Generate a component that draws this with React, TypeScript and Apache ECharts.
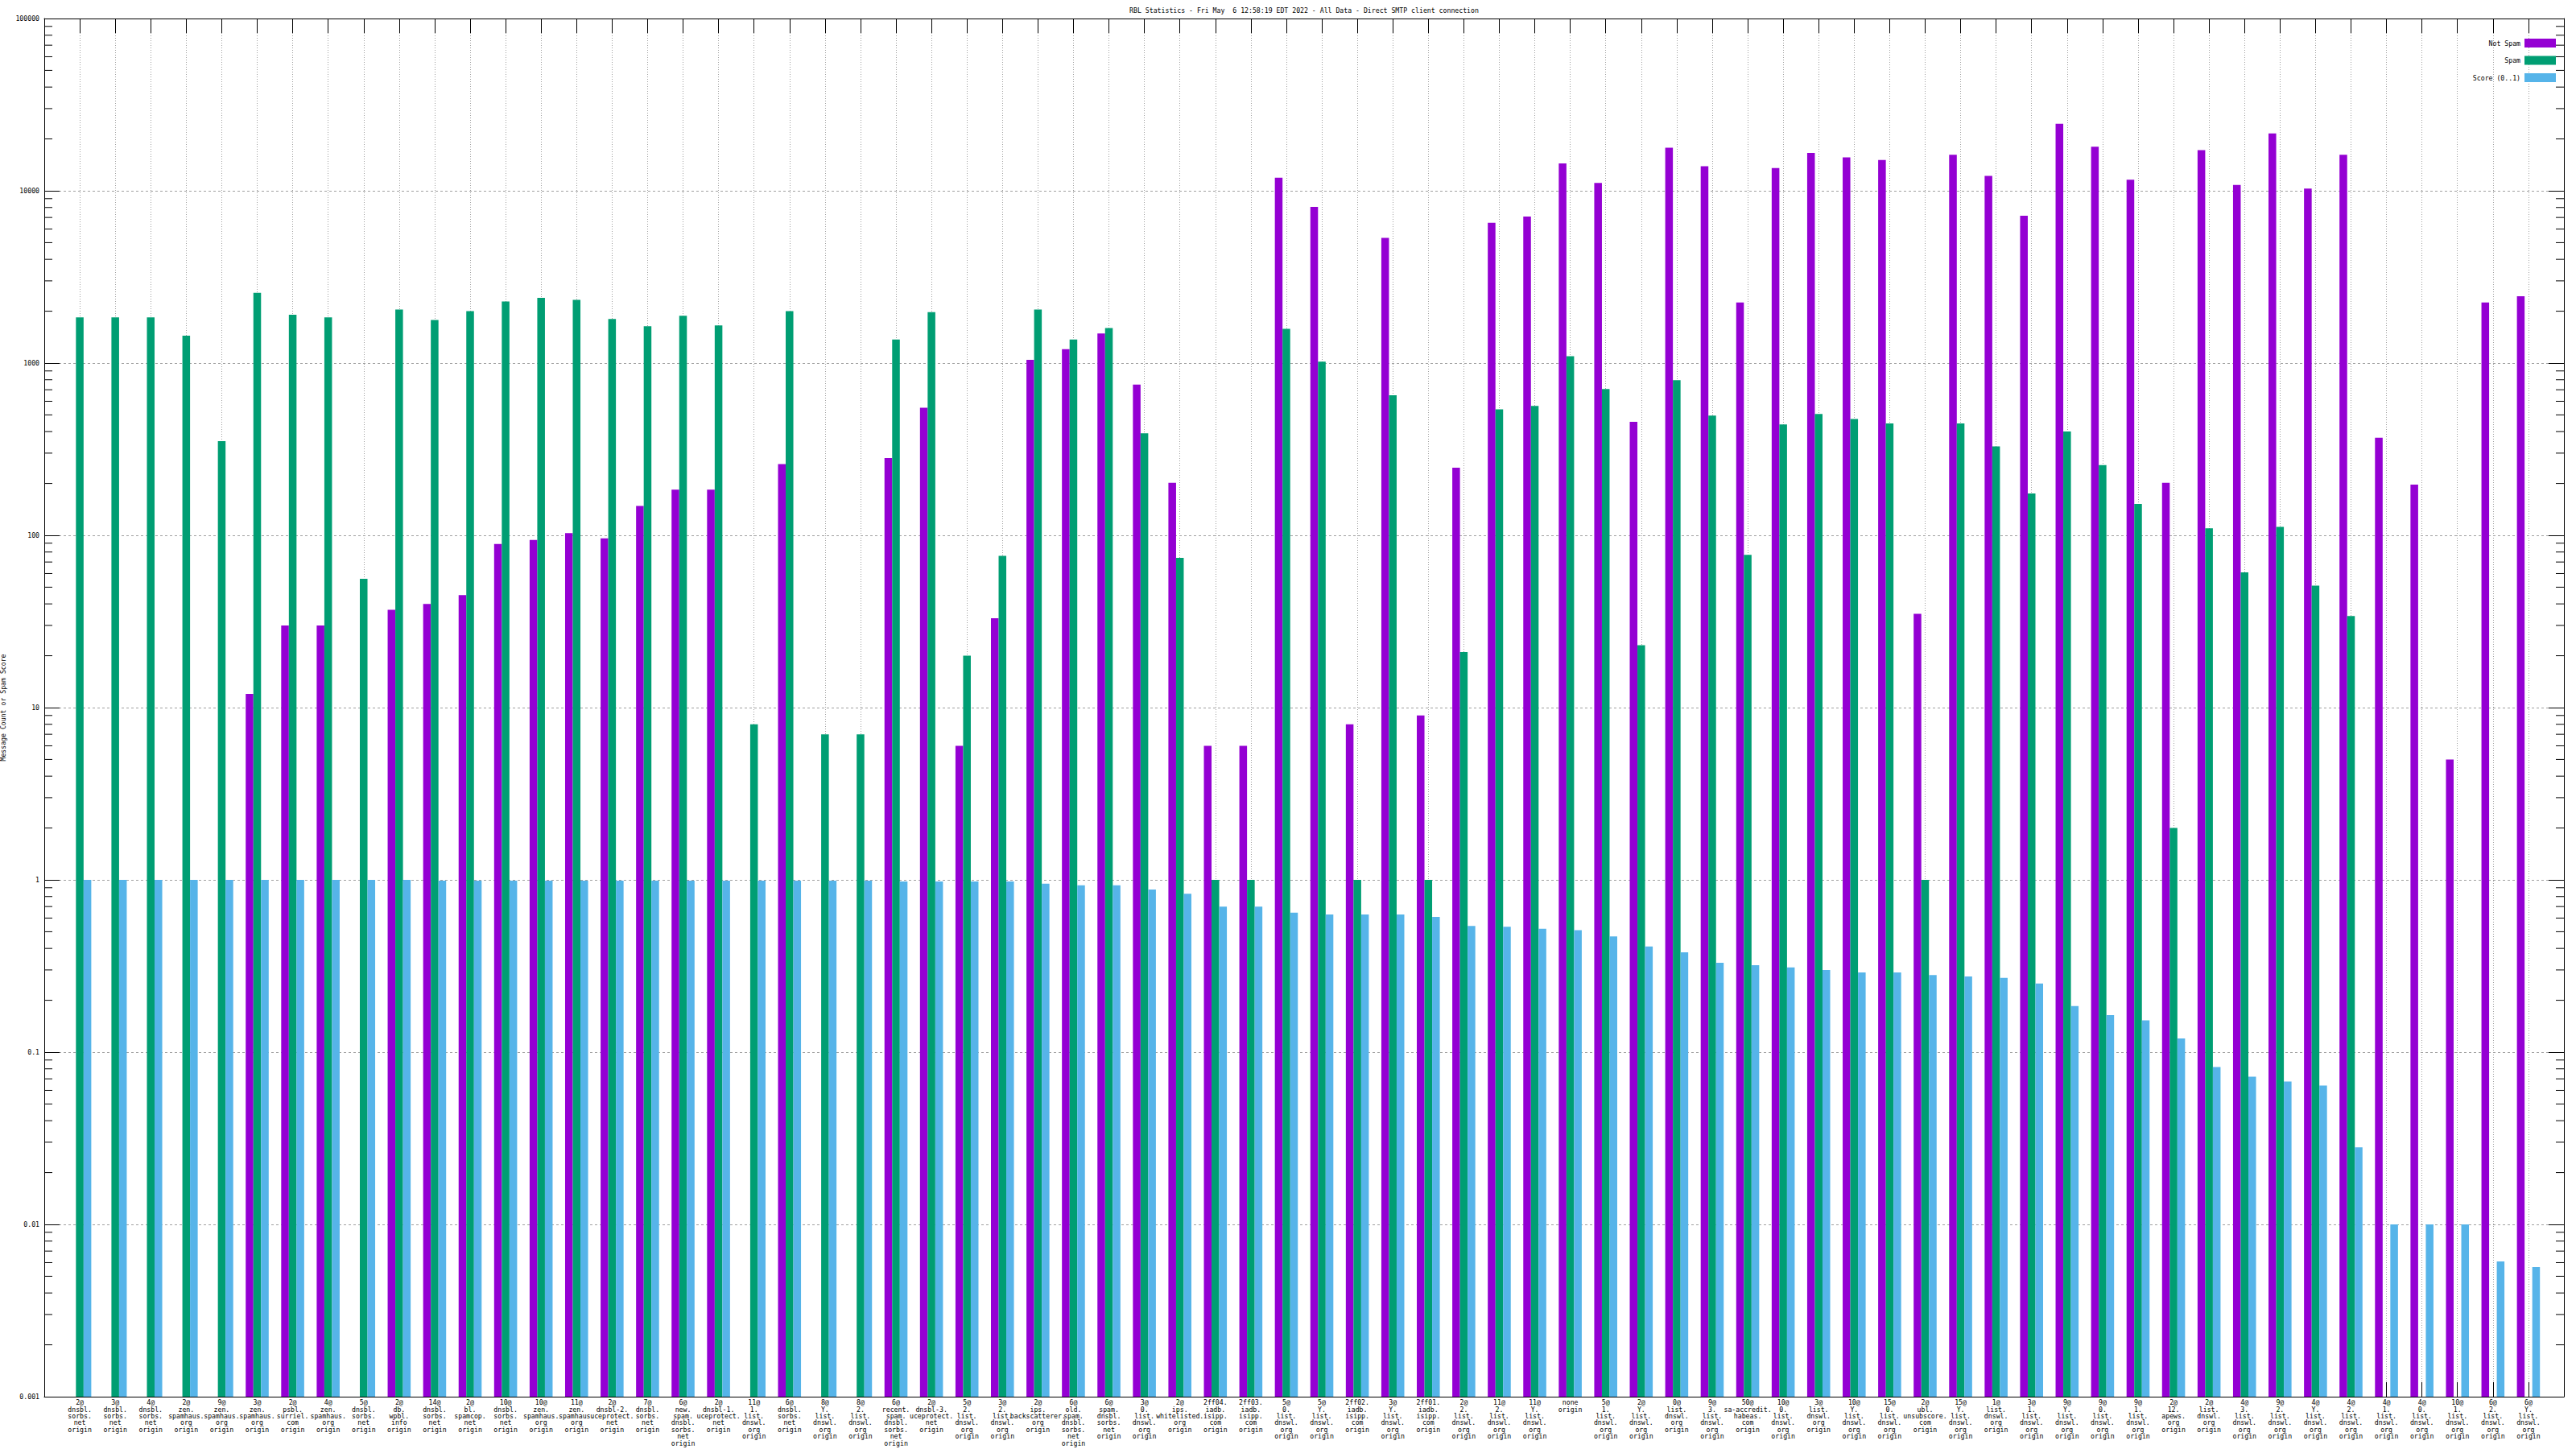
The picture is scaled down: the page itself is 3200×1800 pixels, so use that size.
import React, { useEffect, useRef } from "react";
import * as echarts from "echarts";

const TITLE = "RBL Statistics - Fri May  6 12:58:19 EDT 2022 - All Data - Direct SMTP client connection";
const Y_NAME = "Message Count or Spam Score";
const SERIES_NAMES = ["Not Spam", "Spam", "Score (0..1)"];
const COLORS = ["#9400d3", "#009e73", "#56b4e9"];

const categories = [
  "2@\ndnsbl.\nsorbs.\nnet\norigin",
  "3@\ndnsbl.\nsorbs.\nnet\norigin",
  "4@\ndnsbl.\nsorbs.\nnet\norigin",
  "2@\nzen.\nspamhaus.\norg\norigin",
  "9@\nzen.\nspamhaus.\norg\norigin",
  "3@\nzen.\nspamhaus.\norg\norigin",
  "2@\npsbl.\nsurriel.\ncom\norigin",
  "4@\nzen.\nspamhaus.\norg\norigin",
  "5@\ndnsbl.\nsorbs.\nnet\norigin",
  "2@\ndb.\nwpbl.\ninfo\norigin",
  "14@\ndnsbl.\nsorbs.\nnet\norigin",
  "2@\nbl.\nspamcop.\nnet\norigin",
  "10@\ndnsbl.\nsorbs.\nnet\norigin",
  "10@\nzen.\nspamhaus.\norg\norigin",
  "11@\nzen.\nspamhaus.\norg\norigin",
  "2@\ndnsbl-2.\nuceprotect.\nnet\norigin",
  "7@\ndnsbl.\nsorbs.\nnet\norigin",
  "6@\nnew.\nspam.\ndnsbl.\nsorbs.\nnet\norigin",
  "2@\ndnsbl-1.\nuceprotect.\nnet\norigin",
  "11@\n1.\nlist.\ndnswl.\norg\norigin",
  "6@\ndnsbl.\nsorbs.\nnet\norigin",
  "8@\nY.\nlist.\ndnswl.\norg\norigin",
  "8@\n2.\nlist.\ndnswl.\norg\norigin",
  "6@\nrecent.\nspam.\ndnsbl.\nsorbs.\nnet\norigin",
  "2@\ndnsbl-3.\nuceprotect.\nnet\norigin",
  "5@\n2.\nlist.\ndnswl.\norg\norigin",
  "3@\n2.\nlist.\ndnswl.\norg\norigin",
  "2@\nips.\nbackscatterer.\norg\norigin",
  "6@\nold.\nspam.\ndnsbl.\nsorbs.\nnet\norigin",
  "6@\nspam.\ndnsbl.\nsorbs.\nnet\norigin",
  "3@\n0.\nlist.\ndnswl.\norg\norigin",
  "2@\nips.\nwhitelisted.\norg\norigin",
  "2ff04.\niadb.\nisipp.\ncom\norigin",
  "2ff03.\niadb.\nisipp.\ncom\norigin",
  "5@\n0.\nlist.\ndnswl.\norg\norigin",
  "5@\nY.\nlist.\ndnswl.\norg\norigin",
  "2ff02.\niadb.\nisipp.\ncom\norigin",
  "3@\nY.\nlist.\ndnswl.\norg\norigin",
  "2ff01.\niadb.\nisipp.\ncom\norigin",
  "2@\n2.\nlist.\ndnswl.\norg\norigin",
  "11@\n2.\nlist.\ndnswl.\norg\norigin",
  "11@\nY.\nlist.\ndnswl.\norg\norigin",
  "none\norigin",
  "5@\n1.\nlist.\ndnswl.\norg\norigin",
  "2@\nY.\nlist.\ndnswl.\norg\norigin",
  "0@\nlist.\ndnswl.\norg\norigin",
  "9@\n3.\nlist.\ndnswl.\norg\norigin",
  "50@\nsa-accredit.\nhabeas.\ncom\norigin",
  "10@\n0.\nlist.\ndnswl.\norg\norigin",
  "3@\nlist.\ndnswl.\norg\norigin",
  "10@\nY.\nlist.\ndnswl.\norg\norigin",
  "15@\n0.\nlist.\ndnswl.\norg\norigin",
  "2@\nubl.\nunsubscore.\ncom\norigin",
  "15@\nY.\nlist.\ndnswl.\norg\norigin",
  "1@\nlist.\ndnswl.\norg\norigin",
  "3@\n1.\nlist.\ndnswl.\norg\norigin",
  "9@\nY.\nlist.\ndnswl.\norg\norigin",
  "9@\n0.\nlist.\ndnswl.\norg\norigin",
  "9@\n1.\nlist.\ndnswl.\norg\norigin",
  "2@\n12.\napews.\norg\norigin",
  "2@\nlist.\ndnswl.\norg\norigin",
  "4@\n3.\nlist.\ndnswl.\norg\norigin",
  "9@\n2.\nlist.\ndnswl.\norg\norigin",
  "4@\nY.\nlist.\ndnswl.\norg\norigin",
  "4@\n2.\nlist.\ndnswl.\norg\norigin",
  "4@\n1.\nlist.\ndnswl.\norg\norigin",
  "4@\n0.\nlist.\ndnswl.\norg\norigin",
  "10@\n1.\nlist.\ndnswl.\norg\norigin",
  "6@\n2.\nlist.\ndnswl.\norg\norigin",
  "6@\nY.\nlist.\ndnswl.\norg\norigin",
];

const notSpam = [
  0, 0, 0, 0, 0, 12, 30, 30, 0, 37,
  40, 45, 89, 94, 103, 96, 148, 184, 184, 0,
  259, 0, 0, 281, 551, 6, 33, 1043, 1203, 1486,
  750, 202, 6, 6, 11900, 8070, 8, 5330, 9, 247,
  6520, 7080, 14400, 11100, 456, 17800, 13900, 2250, 13560, 16590,
  15640, 15100, 35, 16200, 12200, 7170, 24500, 18000, 11600, 202,
  17200, 10800, 21500, 10300, 16200, 369, 197, 5, 2250, 2445,
];

const spam = [
  1840, 1840, 1840, 1440, 352, 2560, 1905, 1840, 56, 2047,
  1778, 2000, 2277, 2389, 2330, 1800, 1636, 1884, 1655, 8,
  2000, 7, 7, 1370, 1977, 20, 76, 2047, 1370, 1597,
  391, 74, 1, 1, 1578, 1020, 1, 650, 1, 21,
  538, 564, 1095, 706, 23, 795, 495, 77, 440, 507,
  473, 446, 1, 446, 328, 175, 401, 256, 152, 2,
  110, 61, 112, 51, 34, 0, 0, 0, 0, 0,
];

const score = [
  1, 1, 1, 1, 1, 1, 1, 1, 1, 1,
  0.99, 0.99, 0.99, 0.99, 0.99, 0.99, 0.99, 0.99, 0.99, 0.99,
  0.99, 0.99, 0.99, 0.98, 0.98, 0.98, 0.98, 0.95, 0.93, 0.93,
  0.88, 0.83, 0.7, 0.7, 0.645, 0.63, 0.63, 0.63, 0.61, 0.54,
  0.535, 0.52, 0.51, 0.47, 0.41, 0.38, 0.33, 0.32, 0.31, 0.3,
  0.29, 0.29, 0.28, 0.275, 0.27, 0.25, 0.185, 0.164, 0.153, 0.12,
  0.082, 0.072, 0.0675, 0.064, 0.028, 0.01, 0.01, 0.01, 0.0061, 0.00565,
];

const yTickLabels = ["0.001", "0.01", "0.1", "1", "10", "100", "1000", "10000", "100000"];
const Y_MIN = 0.001;
const Y_MAX = 100000;
const MINOR_MULTIPLIERS = [2, 3, 4, 5, 6, 7, 8, 9];

const FONT = "'DejaVu Sans Mono', monospace";
const FS = 8.2;
const GRID_COLOR = "#a0a0a0";

export default function App() {
  const ref = useRef<HTMLDivElement>(null);

  useEffect(() => {
    if (!ref.current) return;
    const chart = echarts.init(ref.current, null, { renderer: "svg" });
    const X_MAX = categories.length + 1;
    const BAR_FRAC = 0.216;

    const barSeries = [notSpam, spam, score].map((vals, si) => ({
      type: "custom",
      name: SERIES_NAMES[si],
      xAxisIndex: 0,
      yAxisIndex: 0,
      itemStyle: { color: COLORS[si] },
      encode: { x: 0, y: 1 },
      data: vals.map((v, i) => [i + 1, v]).filter((d) => d[1] > 0),
      z: 3,
      silent: true,
      renderItem: (params: any, api: any) => {
        const x = api.value(0);
        const v = api.value(1);
        const top = api.coord([x, v]);
        const base = api.coord([x, Y_MIN]);
        const slot = api.coord([x + 1, v])[0] - top[0];
        const w = slot * BAR_FRAC;
        const cx = top[0] + (si - 1) * w;
        return {
          type: "rect",
          shape: { x: cx - w / 2, y: top[1], width: w, height: base[1] - top[1] },
          style: { fill: COLORS[si] },
        };
      },
    }));

    // minor log ticks on left and right axes (axis decoration)
    const minorTickValues: number[][] = [];
    for (let e = -3; e < 5; e++) {
      for (const m of MINOR_MULTIPLIERS) minorTickValues.push([0, m * Math.pow(10, e)]);
    }
    const minorSeries = {
      type: "custom",
      name: "minor",
      xAxisIndex: 0,
      yAxisIndex: 0,
      encode: { x: 0, y: 1 },
      data: minorTickValues,
      silent: true,
      z: 4,
      renderItem: (params: any, api: any) => {
        const v = api.value(1);
        const l = api.coord([0, v]);
        const r = api.coord([X_MAX, v]);
        return {
          type: "group",
          children: [
            { type: "line", shape: { x1: l[0], y1: l[1], x2: l[0] + 10, y2: l[1] }, style: { stroke: "#000", lineWidth: 1 } },
            { type: "line", shape: { x1: r[0] - 10, y1: r[1], x2: r[0], y2: r[1] }, style: { stroke: "#000", lineWidth: 1 } },
          ],
        };
      },
    };

    const yLabel = (v: number) => {
      const e = Math.round(Math.log10(v));
      return yTickLabels[e + 3] ?? "";
    };

    const option: any = {
      animation: false,
      backgroundColor: "#ffffff",
      color: COLORS,
      textStyle: { fontFamily: FONT, fontSize: FS, color: "#000" },
      grid: { left: 55, right: 15, top: 23, bottom: 65, containLabel: false, outerBoundsMode: "none" },
      graphic: [
        {
          type: "text",
          x: 1620,
          y: 12.5,
          style: {
            text: TITLE,
            fill: "#000",
            font: `${FS}px ${FONT}`,
            textAlign: "center",
            textVerticalAlign: "middle",
          },
        },
      ],
      legend: {
        data: SERIES_NAMES,
        orient: "vertical",
        align: "right",
        right: 25,
        top: 48,
        itemWidth: 39,
        itemHeight: 11,
        itemGap: 10.5,
        padding: 0,
        icon: "rect",
        selectedMode: false,
        textStyle: { fontFamily: FONT, fontSize: FS, color: "#000" },
      },
      xAxis: [
        {
          type: "value",
          position: "bottom",
          min: 0,
          max: X_MAX,
          interval: 1,
          axisLine: { show: true, onZero: false, lineStyle: { color: "#000", width: 1 } },
          axisTick: { show: true, inside: true, length: 18, lineStyle: { color: "#000", width: 1 } },
          axisLabel: {
            show: true,
            interval: 0,
            hideOverlap: false,
            margin: 3,
            fontFamily: FONT,
            fontSize: FS,
            lineHeight: 8.4,
            color: "#000",
            align: "center",
            verticalAlign: "top",
            formatter: (v: number) => categories[v - 1] ?? "",
          },
          splitLine: { show: true, lineStyle: { color: GRID_COLOR, type: [1, 2], width: 1 } },
        },
        {
          type: "value",
          position: "top",
          min: 0,
          max: X_MAX,
          interval: 1,
          axisLine: { show: true, onZero: false, lineStyle: { color: "#000", width: 1 } },
          axisTick: { show: true, inside: true, length: 18, lineStyle: { color: "#000", width: 1 } },
          axisLabel: { show: false },
          splitLine: { show: false },
        },
      ],
      yAxis: [
        {
          type: "log",
          logBase: 10,
          min: Y_MIN,
          max: Y_MAX,
          position: "left",
          name: Y_NAME,
          nameLocation: "middle",
          nameRotate: 90,
          nameGap: 47,
          nameTextStyle: { fontFamily: FONT, fontSize: FS, color: "#000" },
          axisLine: { show: true, onZero: false, lineStyle: { color: "#000", width: 1 } },
          axisTick: { show: true, inside: true, length: 19, lineStyle: { color: "#000", width: 1 } },
          axisLabel: { show: true, margin: 6, fontFamily: FONT, fontSize: FS, color: "#000", formatter: yLabel },
          splitLine: { show: true, lineStyle: { color: GRID_COLOR, type: [3, 3], width: 1 } },
        },
        {
          type: "log",
          logBase: 10,
          min: Y_MIN,
          max: Y_MAX,
          position: "right",
          axisLine: { show: true, onZero: false, lineStyle: { color: "#000", width: 1 } },
          axisTick: { show: true, inside: true, length: 19, lineStyle: { color: "#000", width: 1 } },
          axisLabel: { show: false },
          splitLine: { show: false },
        },
      ],
      series: [...barSeries, minorSeries],
    };

    chart.setOption(option);
    return () => chart.dispose();
  }, []);

  return (
    <div
      ref={ref}
      style={{ position: "absolute", left: 0, top: 0, width: 3200, height: 1800, background: "#fff" }}
    />
  );
}
